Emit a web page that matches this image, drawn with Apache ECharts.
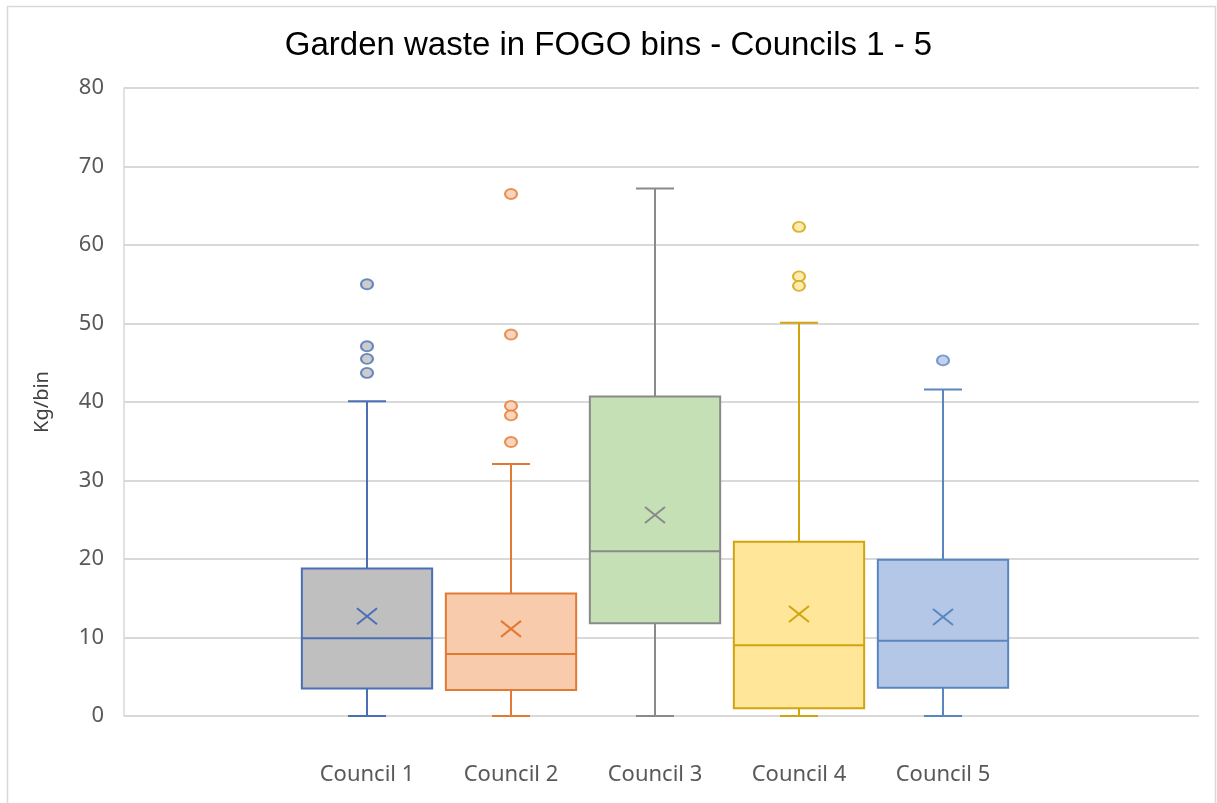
<!DOCTYPE html>
<html>
<head>
<meta charset="utf-8">
<script src="https://cdn.jsdelivr.net/npm/echarts@6/dist/echarts.min.js"></script>
<style>
html,body{margin:0;padding:0;background:#fff;}
#chart{width:1217px;height:803px;}
</style>
</head>
<body>
<div id="chart"></div>
<script>
// ---- Data ----
var categories = ['Council 1', 'Council 2', 'Council 3', 'Council 4', 'Council 5'];
var mins    = [0, 0, 0, 0, 0];
var q1s     = [3.5, 3.3, 11.8, 1.0, 3.6];
var medians = [9.9, 7.9, 21.0, 9.0, 9.6];
var q3s     = [18.8, 15.6, 40.7, 22.2, 19.9];
var maxs    = [40.1, 32.1, 67.2, 50.1, 41.6];
var means   = [12.7, 11.1, 25.6, 13.0, 12.6];
var outliers = [
  [55.0, 47.1, 45.5, 43.7],
  [66.5, 48.6, 39.5, 38.3, 34.9],
  [],
  [62.3, 56.0, 54.8],
  [45.3]
];
var yTicks = [0, 10, 20, 30, 40, 50, 60, 70, 80];

// ---- Styles ----
var fills   = ['#BFBFBF', '#F8CBAD', '#C5E0B4', '#FFE699', '#B4C7E7'];
var borders = ['#4A6FB5', '#E37A33', '#8A8A8A', '#D1A40E', '#5A86C0'];

var boxData = categories.map(function (c, i) {
  return [i, mins[i], q1s[i], medians[i], q3s[i], maxs[i], means[i]];
});
var outlierData = [];
outliers.forEach(function (arr, i) {
  arr.forEach(function (v) {
    outlierData.push({
      value: [i, v],
      itemStyle: { color: fills[i], borderColor: borders[i], borderWidth: 2 }
    });
  });
});

function renderBox(params, api) {
  var i = api.value(0);
  var band = api.size([1, 0])[0];
  var boxW = band * 0.905;
  var capW = 38;
  var pMin = api.coord([i, api.value(1)]);
  var pQ1 = api.coord([i, api.value(2)]);
  var pMed = api.coord([i, api.value(3)]);
  var pQ3 = api.coord([i, api.value(4)]);
  var pMax = api.coord([i, api.value(5)]);
  var pMean = api.coord([i, api.value(6)]);
  var cx = pMed[0];
  var col = borders[i];
  var ls = { stroke: col, lineWidth: 2, fill: null };
  var mx = 10, my = 8;
  return {
    type: 'group',
    children: [
      { type: 'line', shape: { x1: cx, y1: pQ3[1], x2: cx, y2: pMax[1] }, style: ls },
      { type: 'line', shape: { x1: cx, y1: pQ1[1], x2: cx, y2: pMin[1] }, style: ls },
      { type: 'line', shape: { x1: cx - capW / 2, y1: pMax[1], x2: cx + capW / 2, y2: pMax[1] }, style: ls },
      { type: 'line', shape: { x1: cx - capW / 2, y1: pMin[1], x2: cx + capW / 2, y2: pMin[1] }, style: ls },
      { type: 'rect', shape: { x: cx - boxW / 2, y: pQ3[1], width: boxW, height: pQ1[1] - pQ3[1] },
        style: { fill: fills[i], stroke: col, lineWidth: 2 } },
      { type: 'line', shape: { x1: cx - boxW / 2, y1: pMed[1], x2: cx + boxW / 2, y2: pMed[1] }, style: ls },
      { type: 'line', shape: { x1: cx - mx, y1: pMean[1] - my, x2: cx + mx, y2: pMean[1] + my }, style: ls },
      { type: 'line', shape: { x1: cx - mx, y1: pMean[1] + my, x2: cx + mx, y2: pMean[1] - my }, style: ls }
    ]
  };
}

var chart = echarts.init(document.getElementById('chart'), null, { renderer: 'canvas' });
chart.setOption({
  backgroundColor: '#ffffff',
  animation: false,
  title: {
    text: 'Garden waste in FOGO bins - Councils 1 - 5',
    left: 'center',
    top: 24,
    textStyle: { fontFamily: 'Liberation Sans, Arial, sans-serif', fontSize: 33, fontWeight: 'normal', color: '#000000' }
  },
  graphic: [{
    type: 'rect',
    shape: { x: 7.5, y: 6.5, width: 1208, height: 805 },
    style: { fill: null, stroke: '#D9D9D9', lineWidth: 1.5 },
    silent: true
  }],
  grid: [
    { left: 124, right: 18, top: 88, bottom: 87 },
    { left: 295, right: 202, top: 88, bottom: 87 }
  ],
  xAxis: [
    { gridIndex: 0, type: 'value', min: 0, max: 1, show: false },
    {
      gridIndex: 1, type: 'category', data: categories, boundaryGap: true,
      axisLine: { show: false }, axisTick: { show: false },
      axisLabel: { margin: 48, fontFamily: 'Noto Sans, sans-serif', fontSize: 22, color: '#595959' },
      splitLine: { show: false }
    }
  ],
  yAxis: [
    {
      gridIndex: 0, type: 'value', min: 0, max: 80, interval: 10,
      name: 'Kg/bin', nameLocation: 'middle', nameGap: 72, nameRotate: 90,
      nameTextStyle: { fontFamily: 'Noto Sans, sans-serif', fontSize: 20, color: '#404040' },
      axisLine: { show: true, lineStyle: { color: '#D9D9D9', width: 1.5 } },
      axisTick: { show: false },
      axisLabel: {
        margin: 20, fontFamily: 'Noto Sans, sans-serif', fontSize: 22, color: '#595959',
        formatter: function (v) { return yTicks.indexOf(v) >= 0 ? String(v) : ''; }
      },
      splitLine: { show: true, lineStyle: { color: '#D9D9D9', width: 2 } }
    },
    {
      gridIndex: 1, type: 'value', min: 0, max: 80, interval: 10, show: false,
      splitLine: { show: false }
    }
  ],
  series: [
    {
      type: 'custom', xAxisIndex: 1, yAxisIndex: 1,
      renderItem: renderBox,
      encode: { x: 0, y: [1, 2, 3, 4, 5, 6] },
      data: boxData, z: 3
    },
    {
      type: 'scatter', xAxisIndex: 1, yAxisIndex: 1,
      symbol: 'circle', symbolSize: [12, 10],
      data: outlierData, z: 4
    }
  ]
});
</script>
</body>
</html>
